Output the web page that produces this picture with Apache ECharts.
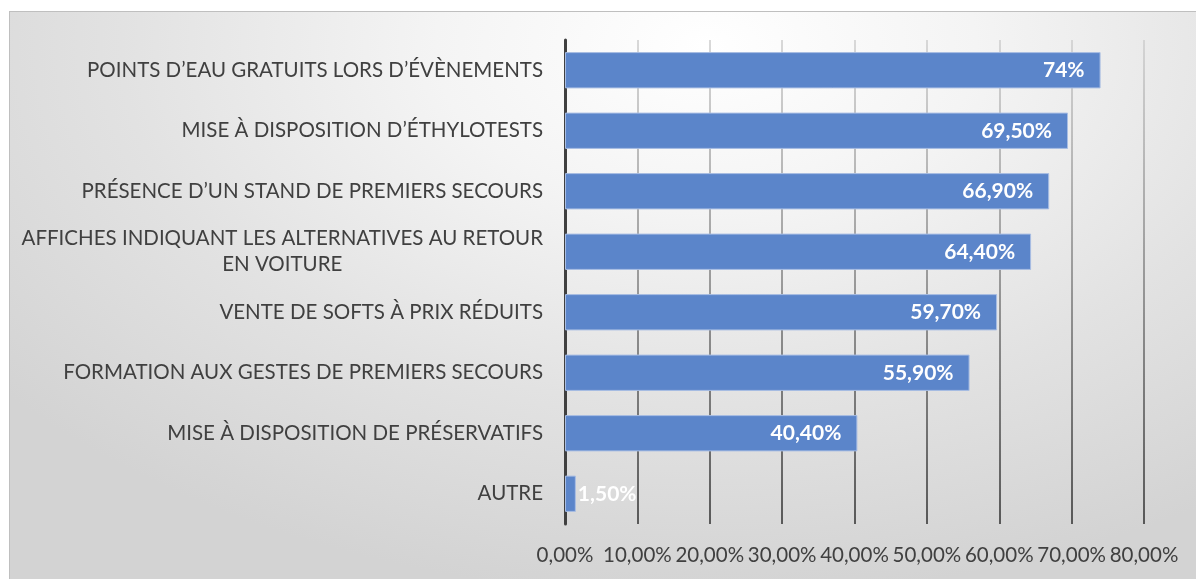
<!DOCTYPE html>
<html>
<head>
<meta charset="utf-8">
<script src="https://cdn.jsdelivr.net/npm/echarts@6/dist/echarts.min.js"></script>
<style>
  html, body { margin: 0; padding: 0; background: #fff; overflow: hidden; }
  #frame {
    position: absolute; left: 9px; top: 11px; width: 1200px; height: 580px;
    border: 1px solid #bfbfbf;
    background: radial-gradient(ellipse 75% 95% at 58% 6%, #ffffff 0%, #f4f4f4 30%, #e2e2e2 65%, #d3d3d3 100%);
  }
  #main { position: absolute; left: 0; top: 0; width: 1196px; height: 579px; }
</style>
</head>
<body>
<div id="frame"></div>
<div id="main"></div>
<script>
// catégories, du haut vers le bas
var categories = [
  "POINTS D’EAU GRATUITS LORS D’ÉVÈNEMENTS",
  "MISE À DISPOSITION D’ÉTHYLOTESTS",
  "PRÉSENCE D’UN STAND DE PREMIERS SECOURS",
  "AFFICHES INDIQUANT LES ALTERNATIVES AU RETOUR\nEN VOITURE",
  "VENTE DE SOFTS À PRIX RÉDUITS",
  "FORMATION AUX GESTES DE PREMIERS SECOURS",
  "MISE À DISPOSITION DE PRÉSERVATIFS",
  "AUTRE"
];
var values = [74, 69.5, 66.9, 64.4, 59.7, 55.9, 40.4, 1.5];
var barLabels = ["74%", "69,50%", "66,90%", "64,40%", "59,70%", "55,90%", "40,40%", "1,50%"];

var fontSize = 20.5;
var ctx = document.createElement("canvas").getContext("2d");
ctx.font = fontSize + "px Lato";
var multiWidth = 0;
categories.forEach(function (c) {
  if (c.indexOf("\n") >= 0) {
    c.split("\n").forEach(function (l) {
      multiWidth = Math.max(multiWidth, ctx.measureText(l).width);
    });
  }
});

var myChart = echarts.init(document.getElementById("main"));
myChart.setOption({
  backgroundColor: "transparent",
  animation: false,
  grid: { left: 565, right: 52, top: 40, bottom: 55, containLabel: false },
  xAxis: {
    type: "value",
    min: 0,
    max: 80,
    interval: 10,
    axisLine: { show: false },
    axisTick: { show: false },
    axisLabel: {
      color: "#404040",
      fontFamily: "Lato",
      fontSize: fontSize,
      margin: 21,
      formatter: function (v) { return v.toFixed(2).replace(".", ",") + "%"; }
    },
    splitLine: {
      lineStyle: {
        width: 1.5,
        color: new echarts.graphic.LinearGradient(0, 40, 0, 524, [
          { offset: 0, color: "#cdcdcd" },
          { offset: 1, color: "#2e2e2e" }
        ], true)
      }
    }
  },
  yAxis: {
    type: "category",
    inverse: true,
    data: categories,
    axisLine: { lineStyle: { color: "#404040", width: 3 } },
    axisTick: { show: false },
    axisLabel: {
      color: "#404040",
      fontFamily: "Lato",
      fontSize: fontSize,
      margin: 22,
      lineHeight: 26,
      formatter: function (v) {
        if (v.indexOf("\n") < 0) return v;
        return v.split("\n").map(function (l) { return "{c|" + l + "}"; }).join("\n");
      },
      rich: {
        c: { width: multiWidth, align: "center", fontFamily: "Lato", fontSize: fontSize, color: "#404040", lineHeight: 26 }
      }
    }
  },
  series: [
    {
      type: "bar",
      barCategoryGap: "40%",
      data: values.map(function (v) {
        return v < 10 ? { value: v, label: { position: "right", distance: 2 } } : v;
      }),
      itemStyle: { color: "#5b85ca", borderColor: "#a8bde3", borderWidth: 1 },
      label: {
        show: true,
        position: "insideRight",
        distance: 16,
        color: "#ffffff",
        fontFamily: "Lato",
        fontWeight: "bold",
        fontSize: 21,
        formatter: function (p) { return barLabels[p.dataIndex]; }
      }
    }
  ]
});
</script>
</body>
</html>
